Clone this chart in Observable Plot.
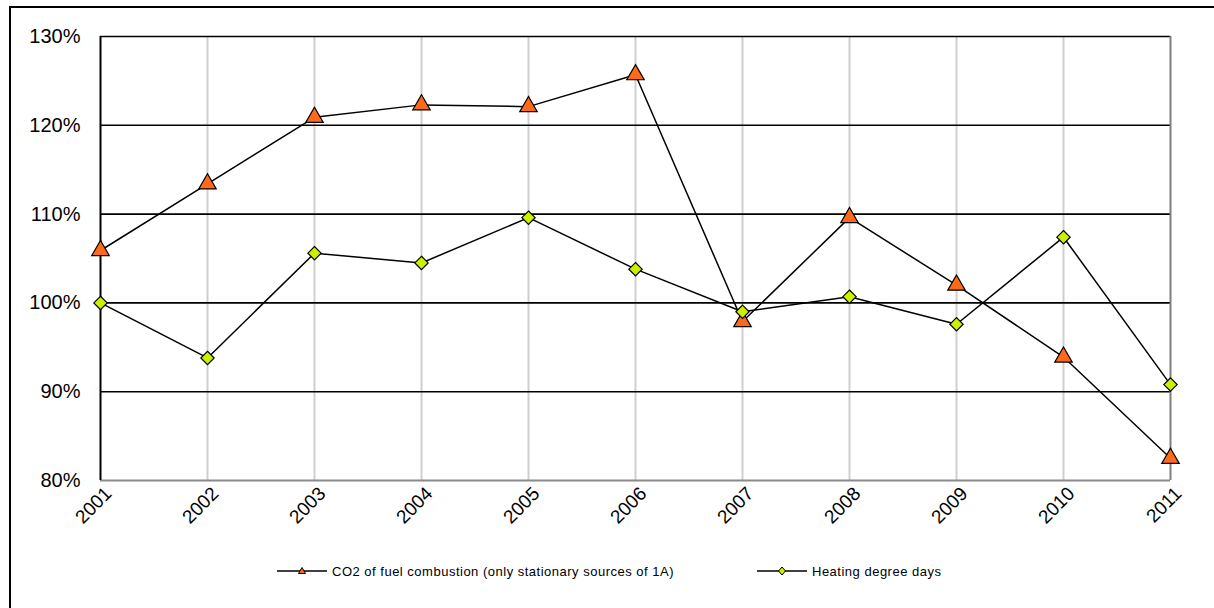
<!DOCTYPE html>
<html>
<head>
<meta charset="utf-8">
<script src="https://cdn.jsdelivr.net/npm/d3@7"></script>
<script src="https://cdn.jsdelivr.net/npm/@observablehq/plot@0.6"></script>
<style>
  html, body { margin: 0; padding: 0; background: #fff; }
  body { width: 1214px; height: 608px; overflow: hidden; position: relative; font-family: "Liberation Sans", Arial, sans-serif; }
  #frame { position: absolute; left: 9px; top: 6px; width: 1240px; height: 640px; border: 2px solid #000; box-sizing: border-box; }
  #chart { position: absolute; left: 0; top: 0; }
  #legend { position: absolute; left: 0; top: 561px; width: 1214px; height: 20px; font-size: 13px; letter-spacing: 0.5px; color: #000; }
  .item { position: absolute; top: 0; display: flex; align-items: center; height: 20px; }
  .item svg { margin-right: 5px; }
</style>
</head>
<body>
<div id="frame"></div>
<div id="chart"></div>
<div id="legend"></div>
<script>
const years = ["2001","2002","2003","2004","2005","2006","2007","2008","2009","2010","2011"];
const co2 = [105.9, 113.4, 120.9, 122.3, 122.1, 125.7, 97.9, 109.6, 102.0, 93.9, 82.5];
const hdd = [100.0, 93.8, 105.6, 104.5, 109.6, 103.8, 99.0, 100.7, 97.6, 107.4, 90.8];
const yTicks = [80, 90, 100, 110, 120, 130];
const seriesNames = ["CO2 of fuel combustion (only stationary sources of 1A)", "Heating degree days"];

const co2Data = years.map((y, i) => ({year: y, value: co2[i]}));
const hddData = years.map((y, i) => ({year: y, value: hdd[i]}));

const font = "Liberation Sans, Arial, sans-serif";

const plot = Plot.plot({
  width: 1214,
  height: 560,
  marginTop: 36,
  marginLeft: 100,
  marginRight: 44,
  marginBottom: 80,
  style: {fontFamily: font, background: "transparent", overflow: "visible"},
  x: {type: "point", domain: years, padding: 0},
  y: {domain: [80, 130]},
  marks: [
    Plot.gridX(years.slice(1, -1), {stroke: "#cfcfcf", strokeOpacity: 1, strokeWidth: 2}),
    Plot.ruleY(yTicks.filter(v => v > 80), {stroke: "#000", strokeWidth: 1.6}),
    Plot.ruleX([years[years.length - 1]], {stroke: "#7f7f7f", strokeWidth: 2}),
    Plot.ruleY([80], {stroke: "#8a8a8a", strokeWidth: 2}),
    Plot.ruleX([years[0]], {stroke: "#000", strokeWidth: 2}),
    Plot.axisY({ticks: yTicks, tickFormat: d => d + "%", tickSize: 0, tickPadding: 20, fontSize: 20, label: null, fill: "#000"}),
    Plot.axisX({tickRotate: -45, tickSize: 0, tickPadding: 10, fontSize: 19, dx: 8, label: null, fill: "#000"}),
    Plot.line(co2Data, {x: "year", y: "value", stroke: "#000", strokeWidth: 1.5}),
    Plot.line(hddData, {x: "year", y: "value", stroke: "#000", strokeWidth: 1.5}),
    Plot.dot(co2Data, {x: "year", y: "value", symbol: "triangle", r: 6.5, fill: "#ff6a1a", stroke: "#000", strokeWidth: 1.2}),
    Plot.dot(hddData, {x: "year", y: "value", symbol: "diamond2", r: 6, fill: "#ccf000", stroke: "#000", strokeWidth: 1.2})
  ]
});
document.getElementById("chart").appendChild(plot);

// Legend
const legend = document.getElementById("legend");
const items = [
  {name: seriesNames[0], left: 277, marker: "tri"},
  {name: seriesNames[1], left: 757, marker: "dia"}
];
for (const it of items) {
  const div = document.createElement("div");
  div.className = "item";
  div.style.left = it.left + "px";
  const m = it.marker === "tri"
    ? '<polygon points="25,5.5 28.5,11.5 21.5,11.5" fill="#ff6a1a" stroke="#000" stroke-width="1"/>'
    : '<polygon points="25,5 28.5,9 25,13 21.5,9" fill="#ccf000" stroke="#000" stroke-width="1"/>';
  div.innerHTML = '<svg width="50" height="18" viewBox="0 0 50 18"><line x1="0" y1="9" x2="50" y2="9" stroke="#000" stroke-width="1.5"/>' + m + '</svg><span>' + it.name + '</span>';
  legend.appendChild(div);
}
</script>
</body>
</html>
